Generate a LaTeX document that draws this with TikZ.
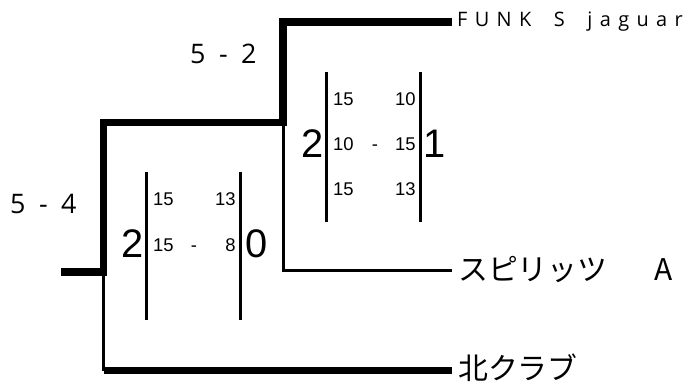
\documentclass[tikz,border=0pt]{standalone}
\usepackage{fontspec}
\setmainfont{Open Sans}
\newfontfamily\cjkfont{Noto Sans CJK JP}
\newfontfamily\scorefont{Liberation Sans}
\newfontfamily\widefont[LetterSpace=37]{Open Sans}
\newfontfamily\setfont[LetterSpace=24]{Open Sans}
\begin{document}
\begin{tikzpicture}[x=1bp,y=-1bp,
  win/.style={line width=7.5bp, line join=miter},
  lose/.style={line width=3bp},
  bar/.style={line width=3bp},
  team/.style={inner xsep=6bp, inner ysep=0pt, anchor=west, font=\cjkfont\fontsize{30}{30}\selectfont},
  bigdigit/.style={inner sep=0pt, font=\scorefont\fontsize{40}{40}\selectfont},
  smalldigit/.style={inner sep=0pt, font=\scorefont\fontsize{18.5}{18.5}\selectfont},
  setscore/.style={inner sep=0pt, anchor=base west, font=\setfont\fontsize{27}{27}\selectfont}]
\useasboundingbox (0,0) rectangle (690,387);

% bracket junctions
\coordinate (root) at (61,272);
\coordinate (s1) at (103.5,272);
\coordinate (s1top) at (103.5,122.5);
\coordinate (s1bot) at (103.5,370.5);
\coordinate (f1) at (283,122.5);
\coordinate (f1top) at (283,22);
\coordinate (f1bot) at (283,270.5);

% teams
\node[inner xsep=5bp, inner ysep=0pt, anchor=base west, font=\widefont\fontsize{20}{20}\selectfont] (funk) at (452,26.7) {FUNK\hspace{10bp} S\hspace{10bp} jaguar};
\node[team] (spir) at (452,270) {スピリッツ　\hspace{17bp}A};
\node[team] (kita) at (452,368) {北クラブ};

% connectors
\draw[win] (root) -- (s1) -- (s1top) -- (f1) -- (f1top) -- (f1top -| funk.west);
\draw[lose] (s1) -- (s1bot);
\draw[win] (s1bot) -- (s1bot -| kita.west);
\draw[lose] (f1) -- (f1bot) -- (f1bot -| spir.west);

% set scores
\node[setscore] (sc2) at (190,63) {5 - 2};
\node[setscore] (sc1) at (10,213) {5 - 4};

% score box: final (lower)
\coordinate (a1t) at (146.5,172);
\coordinate (a1b) at (146.5,320);
\coordinate (a2t) at (240,172);
\coordinate (a2b) at (240,320);
\draw[bar] (a1t) -- (a1b);
\draw[bar] (a2t) -- (a2b);
\node[bigdigit, anchor=base east] (aL) at (143.5,257) {2};
\node[bigdigit, anchor=base west] (aR) at (245.5,257) {0};
\node[smalldigit, anchor=base west] (a11) at (153,205) {15};
\node[smalldigit, anchor=base east] (a12) at (235.7,205) {13};
\node[smalldigit, anchor=base west] (a21) at (153,251) {15};
\node[smalldigit, anchor=base] (a2d) at (194,251) {-};
\node[smalldigit, anchor=base east] (a22) at (235.7,251) {8};

% score box: semifinal (upper)
\coordinate (b1t) at (326.5,72);
\coordinate (b1b) at (326.5,222);
\coordinate (b2t) at (420,72);
\coordinate (b2b) at (420,222);
\draw[bar] (b1t) -- (b1b);
\draw[bar] (b2t) -- (b2b);
\node[bigdigit, anchor=base east] (bL) at (323.5,157) {2};
\node[bigdigit, anchor=base west] (bR) at (423,157) {1};
\node[smalldigit, anchor=base west] (b11) at (333,105) {15};
\node[smalldigit, anchor=base east] (b12) at (415.7,105) {10};
\node[smalldigit, anchor=base west] (b21) at (333,150) {10};
\node[smalldigit, anchor=base] (b2d) at (375,150) {-};
\node[smalldigit, anchor=base east] (b22) at (415.7,150) {15};
\node[smalldigit, anchor=base west] (b31) at (333,195) {15};
\node[smalldigit, anchor=base east] (b32) at (415.7,195) {13};
\end{tikzpicture}
\end{document}
